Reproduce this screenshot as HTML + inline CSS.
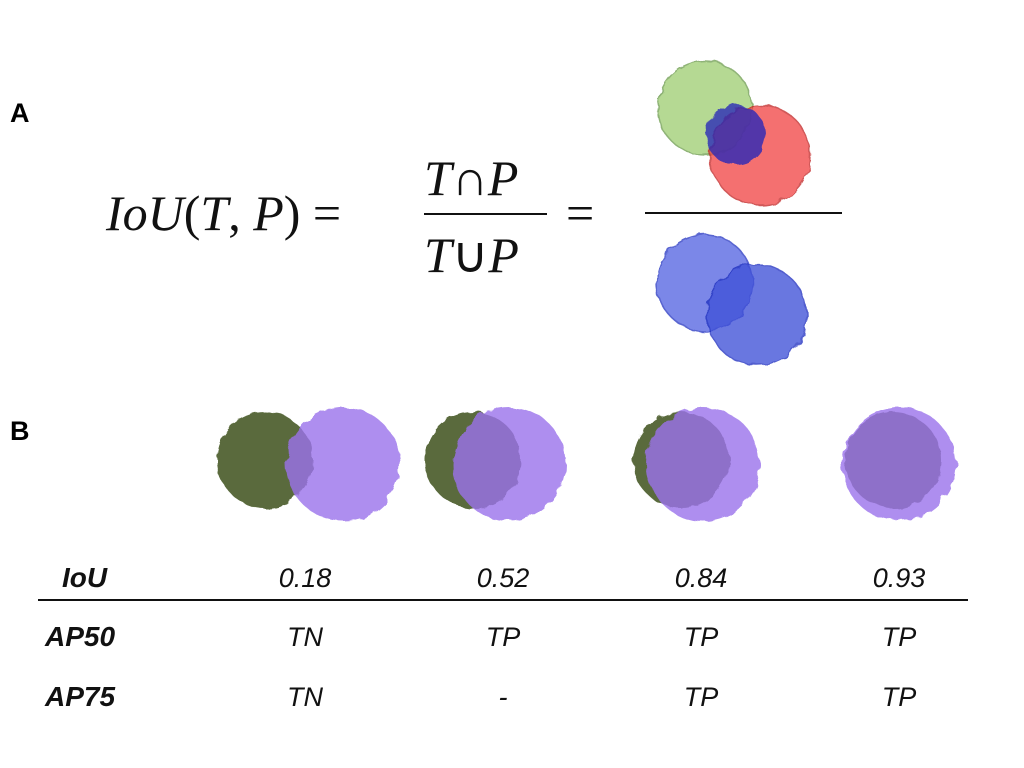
<!DOCTYPE html>
<html><head><meta charset="utf-8">
<style>
html,body{margin:0;padding:0;background:#fff;}
svg{display:block;}
.lbl{font-family:"Liberation Sans",sans-serif;font-weight:bold;font-size:27px;fill:#000;}
.math{font-family:"Liberation Serif",serif;font-size:50px;fill:#111;}
.tb{font-family:"Liberation Sans",sans-serif;font-style:italic;font-size:27px;fill:#111;}
.tbh{font-family:"Liberation Sans",sans-serif;font-style:italic;font-weight:bold;font-size:28px;fill:#111;}
</style></head>
<body>
<svg id="fig" width="1024" height="768" viewBox="0 0 1024 768">
<defs>
<filter id="rough" x="-20%" y="-20%" width="140%" height="140%">
<feTurbulence type="fractalNoise" baseFrequency="0.08" numOctaves="2" result="n"/>
<feDisplacementMap in="SourceGraphic" in2="n" scale="8"/>
</filter>
</defs>
<text class="lbl" x="10" y="122">A</text>
<text class="lbl" x="10" y="440">B</text>

<g>
<text class="math" x="106" y="230"><tspan font-style="italic">IoU</tspan>(<tspan font-style="italic">T</tspan>, <tspan font-style="italic">P</tspan>) =</text>
<text class="math" x="424" y="195"><tspan font-style="italic">T</tspan>∩<tspan font-style="italic">P</tspan></text>
<line x1="424" y1="214" x2="547" y2="214" stroke="#111" stroke-width="2"/>
<text class="math" x="424" y="272"><tspan font-style="italic">T</tspan>∪<tspan font-style="italic">P</tspan></text>
<text class="math" x="566" y="230">=</text>
<line x1="645" y1="213" x2="842" y2="213" stroke="#111" stroke-width="2"/>
</g>

<g filter="url(#rough)">
<circle cx="705" cy="108" r="47" fill="#9ccc6f" opacity="0.75" stroke="#6a9a4a" stroke-width="1.5"/>
<circle cx="760" cy="155" r="50" fill="#f04040" opacity="0.75" stroke="#c02020" stroke-width="1.5"/>
<circle cx="736" cy="135" r="30" fill="#2a2ab8" opacity="0.8"/>
</g>
<g filter="url(#rough)">
<circle cx="705" cy="283" r="48" fill="#5060e0" opacity="0.75" stroke="#2030c0" stroke-width="1.5"/>
<circle cx="757" cy="315" r="50" fill="#4050d8" opacity="0.78" stroke="#2030c0" stroke-width="1.5"/>
</g>

<g id="panelB"></g>
<line x1="38" y1="600" x2="968" y2="600" stroke="#111" stroke-width="2"/>
<text class="tbh" x="62" y="587">IoU</text>
<text class="tbh" x="45" y="646">AP50</text>
<text class="tbh" x="45" y="706">AP75</text>
</svg>
<script>
var iouValues = [0.18, 0.52, 0.84, 0.93];
var ap50Labels = ["TN", "TP", "TP", "TP"];
var ap75Labels = ["TN", "-", "TP", "TP"];
var greenOffset = [-40, -30, -20, -6];
var purpleOffset = [38, 6, 2, 0];
var colX = function(i){ return 305 + i*198; };
var ns = "http://www.w3.org/2000/svg";
var g = document.getElementById("panelB");
var svg = document.getElementById("fig");
function txt(x,y,s,name){
  var t=document.createElementNS(ns,"text");
  t.setAttribute("x",x);t.setAttribute("y",y);t.setAttribute("class","tb");
  t.setAttribute("text-anchor","middle");t.textContent=s;
  
  
  svg.appendChild(t);
}
for(var i=0;i<iouValues.length;i++){
  var cx=colX(i);
  var gc=document.createElementNS(ns,"circle");
  gc.setAttribute("cx",cx+greenOffset[i]);gc.setAttribute("cy",460);gc.setAttribute("r",48);
  gc.setAttribute("fill","#5a6b3c");gc.setAttribute("filter","url(#rough)");
  
  
  g.appendChild(gc);
  var pc=document.createElementNS(ns,"circle");
  pc.setAttribute("cx",cx+purpleOffset[i]);pc.setAttribute("cy",464);pc.setAttribute("r",57);
  pc.setAttribute("fill","#9b72ec");pc.setAttribute("opacity","0.8");pc.setAttribute("filter","url(#rough)");
  
  
  g.appendChild(pc);
  txt(cx,587,iouValues[i].toFixed(2),"iou-value");
  txt(cx,646,ap50Labels[i],"ap50-value");
  txt(cx,706,ap75Labels[i],"ap75-value");
}
</script>
</body></html>
